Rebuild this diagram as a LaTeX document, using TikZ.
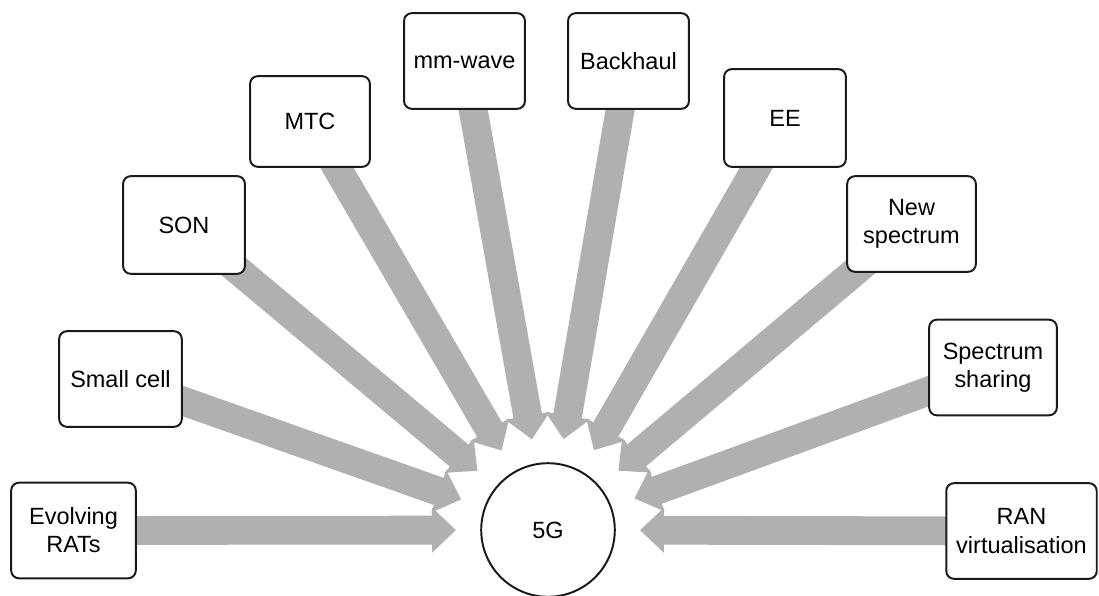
\documentclass[tikz,border=0pt]{standalone}
\usepackage{fontspec}
\setmainfont{Liberation Sans}
\usepackage{xcolor}
\definecolor{edgeDark}{HTML}{1A1A1A}
\definecolor{feedGray}{HTML}{B0B0B0}
\usetikzlibrary{calc,arrows.meta,backgrounds}
\tikzset{
  topicBox/.style={
    rectangle,
    rounded corners=5.5pt,
    draw=edgeDark,
    line width=1.4pt,
    fill=white,
    minimum width=86pt,
    minimum height=68pt,
    align=center,
    font=\fontsize{16.7}{20}\selectfont
 },
  hubCircle/.style={
    circle,
    draw=edgeDark,
    line width=1.4pt,
    fill=white,
    minimum size=95pt,
    inner sep=0pt,
    font=\fontsize{16.7}{20}\selectfont
 },
  feedArrow/.style={
    -{Triangle[length=17pt,width=31pt]},
    line width=20.5pt,
    color=feedGray
 }
}

\begin{document}
\begin{tikzpicture}[x=0.025cm, y=-0.025cm]
            \useasboundingbox (0,0) rectangle (1099,596);
            \node[hubCircle] (hub) at (548,530) {5G};

            \node[topicBox, minimum width=88.6pt] (rats) at (73.5,530.5) {Evolving\\RATs};
            \node[topicBox, minimum width=87.2pt] (small) at (120.5,379) {Small cell};
            \node[topicBox, minimum width=86.6pt, minimum height=69.5pt] (son) at (184,225) {SON};
            \node[topicBox, minimum width=85.2pt, minimum height=64.5pt] (mtc) at (310,121.5) {MTC};
            \node[topicBox] (mmw) at (464.5,61) {\vphantom{B}mm-wave};
            \node[topicBox] (backhaul) at (628.5,61) {Backhaul};
            \node[topicBox, minimum width=86.6pt, minimum height=69.5pt] (ee) at (785,118) {EE};
            \node[topicBox, minimum width=91.5pt] (newspec) at (911.5,224) {New\\spectrum};
            \node[topicBox, minimum width=90.8pt] (sharing) at (993,367.5) {Spectrum\\sharing};
            \node[topicBox, minimum width=107pt] (ran) at (1021.5,531) {RAN\\virtualisation};

            \begin{pgfonlayer}{background}
              \foreach \src in {rats,small,son,mtc,mmw,backhaul,ee,newspec,sharing,ran}
                \draw[feedArrow] (\src.center) -- ($(hub)!2.3cm!(\src)$);
            \end{pgfonlayer}
        \end{tikzpicture}
\end{document}
